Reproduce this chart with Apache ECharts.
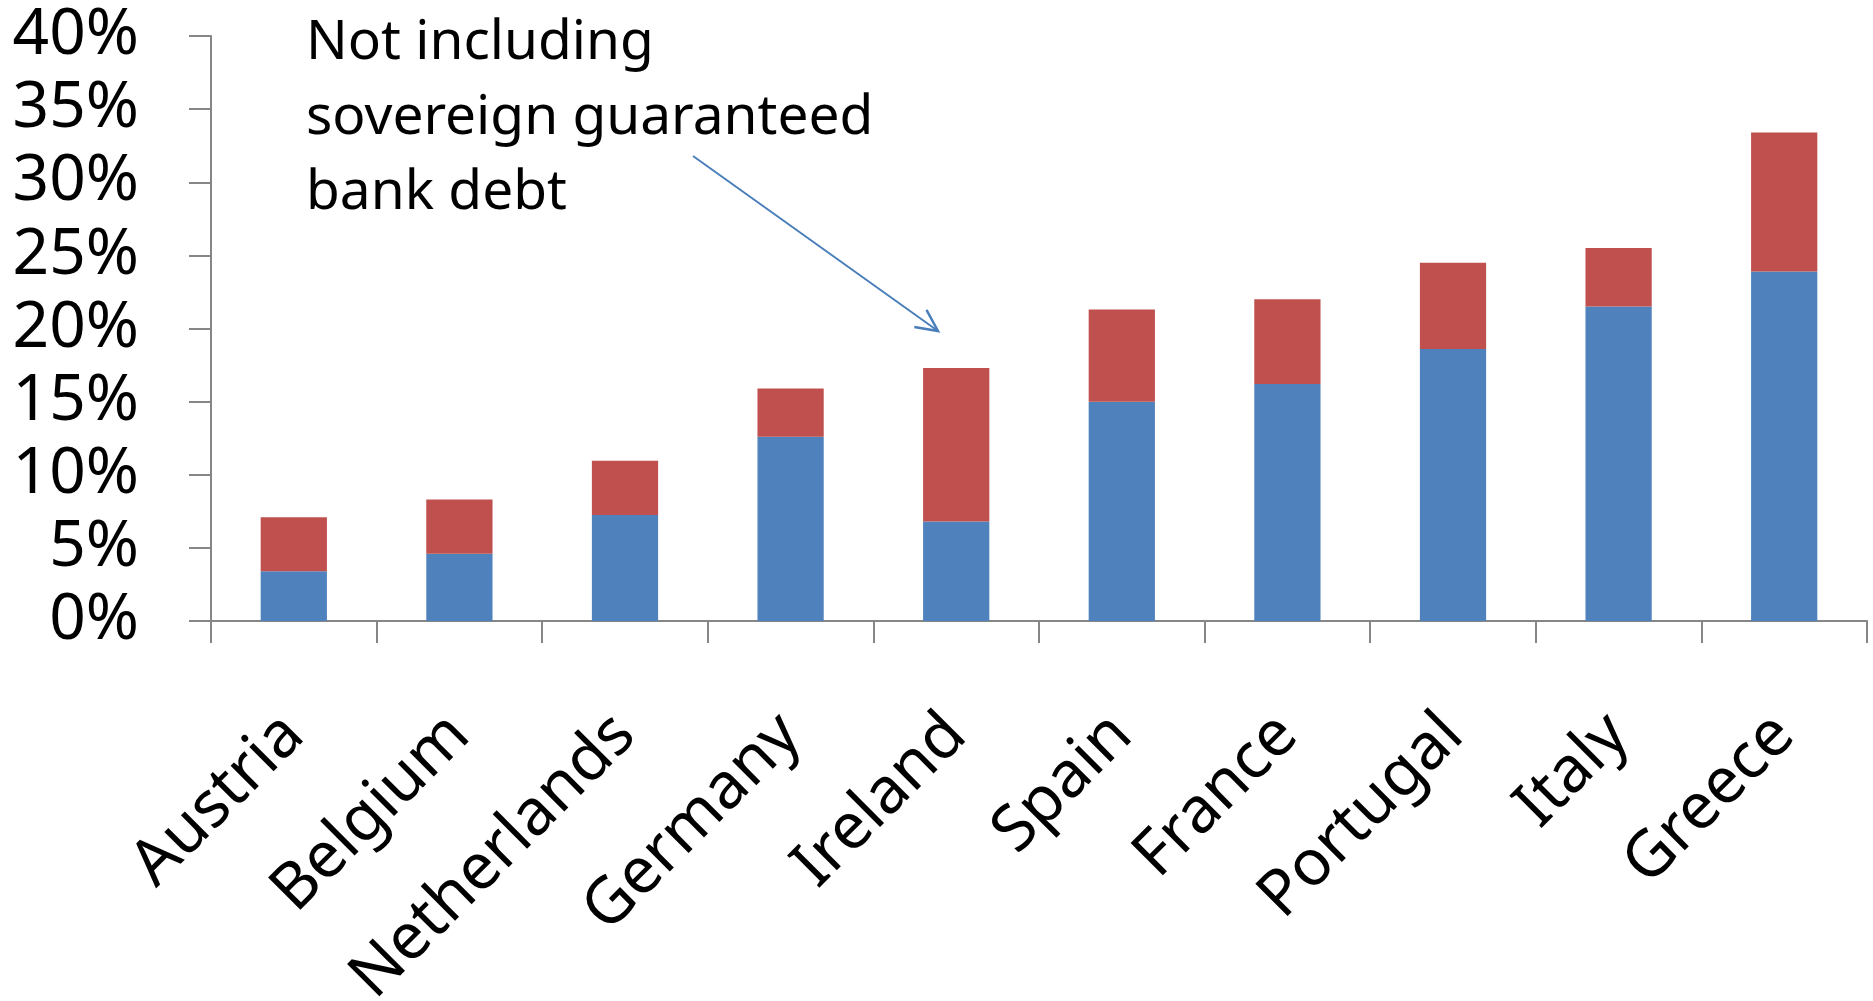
<!DOCTYPE html>
<html>
<head>
<meta charset="utf-8">
<script src="https://cdn.jsdelivr.net/npm/echarts@6/dist/echarts.min.js"></script>
<style>
  html, body { margin: 0; padding: 0; background: #fff; }
  #chart { width: 1873px; height: 1001px; }
</style>
</head>
<body>
<div id="chart"></div>
<script>
// 数据
const countries = ['Austria', 'Belgium', 'Netherlands', 'Germany', 'Ireland', 'Spain', 'France', 'Portugal', 'Italy', 'Greece'];
const baseValues = [3.4, 4.6, 7.25, 12.6, 6.8, 15.0, 16.2, 18.6, 21.5, 23.9];
const extraValues = [3.7, 3.7, 3.7, 3.3, 10.5, 6.3, 5.8, 5.9, 4.0, 9.5];
const yTicks = [0, 5, 10, 15, 20, 25, 30, 35, 40];
const noteLines = ['Not including', 'sovereign guaranteed', 'bank debt'];

const font = '"Noto Sans", "Open Sans", sans-serif';
const axisGray = '#868686';

// 箭头
const arrowFrom = [693, 156];
const arrowTo = [938, 331];
const ang = Math.atan2(arrowTo[1] - arrowFrom[1], arrowTo[0] - arrowFrom[0]);
const headLen = 24;
const headAng = 0.45;
const head1 = [arrowTo[0] - headLen * Math.cos(ang - headAng), arrowTo[1] - headLen * Math.sin(ang - headAng)];
const head2 = [arrowTo[0] - headLen * Math.cos(ang + headAng), arrowTo[1] - headLen * Math.sin(ang + headAng)];

const myChart = echarts.init(document.getElementById('chart'));

myChart.setOption({
    animation: false,
    grid: {
        left: 211,
        right: 6,
        top: 36,
        bottom: 380,
        containLabel: false,
        outerBoundsMode: 'none',
    },
    xAxis: {
        type: 'category',
        data: countries,
        boundaryGap: true,
        axisLine: { lineStyle: { color: axisGray, width: 2 } },
        axisTick: { show: true, length: 22, alignWithLabel: false, lineStyle: { color: axisGray, width: 2 } },
        axisLabel: {
            rotate: 45,
            margin: 104,
            color: '#000',
            fontSize: 64,
            fontFamily: font,
            interval: 0,
        },
    },
    yAxis: {
        type: 'value',
        min: yTicks[0],
        max: yTicks[yTicks.length - 1],
        interval: 5,
        splitLine: { show: false },
        axisLine: { show: true, lineStyle: { color: axisGray, width: 2 } },
        axisTick: { show: true, length: 22, lineStyle: { color: axisGray, width: 2 } },
        axisLabel: {
            formatter: '{value}%',
            margin: 72,
            color: '#000',
            fontSize: 64,
            fontFamily: font,
        },
    },
    series: [
        {
            name: 'base',
            type: 'bar',
            stack: 'debt',
            data: baseValues,
            barCategoryGap: '60%',
            itemStyle: { color: '#4F81BD' },
        },
        {
            name: 'extra',
            type: 'bar',
            stack: 'debt',
            data: extraValues,
            barCategoryGap: '60%',
            itemStyle: { color: '#C0504D' },
        },
    ],
    graphic: [
        {
            type: 'text',
            left: 306,
            top: 6,
            style: {
                text: noteLines.join('\n'),
                fill: '#000',
                font: '55px ' + font,
                lineHeight: 75,
            },
        },
        {
            type: 'polyline',
            shape: { points: [arrowFrom, arrowTo] },
            style: { stroke: '#4A7EBB', lineWidth: 2, fill: null },
        },
        {
            type: 'polyline',
            shape: { points: [head1, arrowTo, head2] },
            style: { stroke: '#4A7EBB', lineWidth: 2.5, fill: null },
        },
    ],
});
</script>
</body>
</html>
